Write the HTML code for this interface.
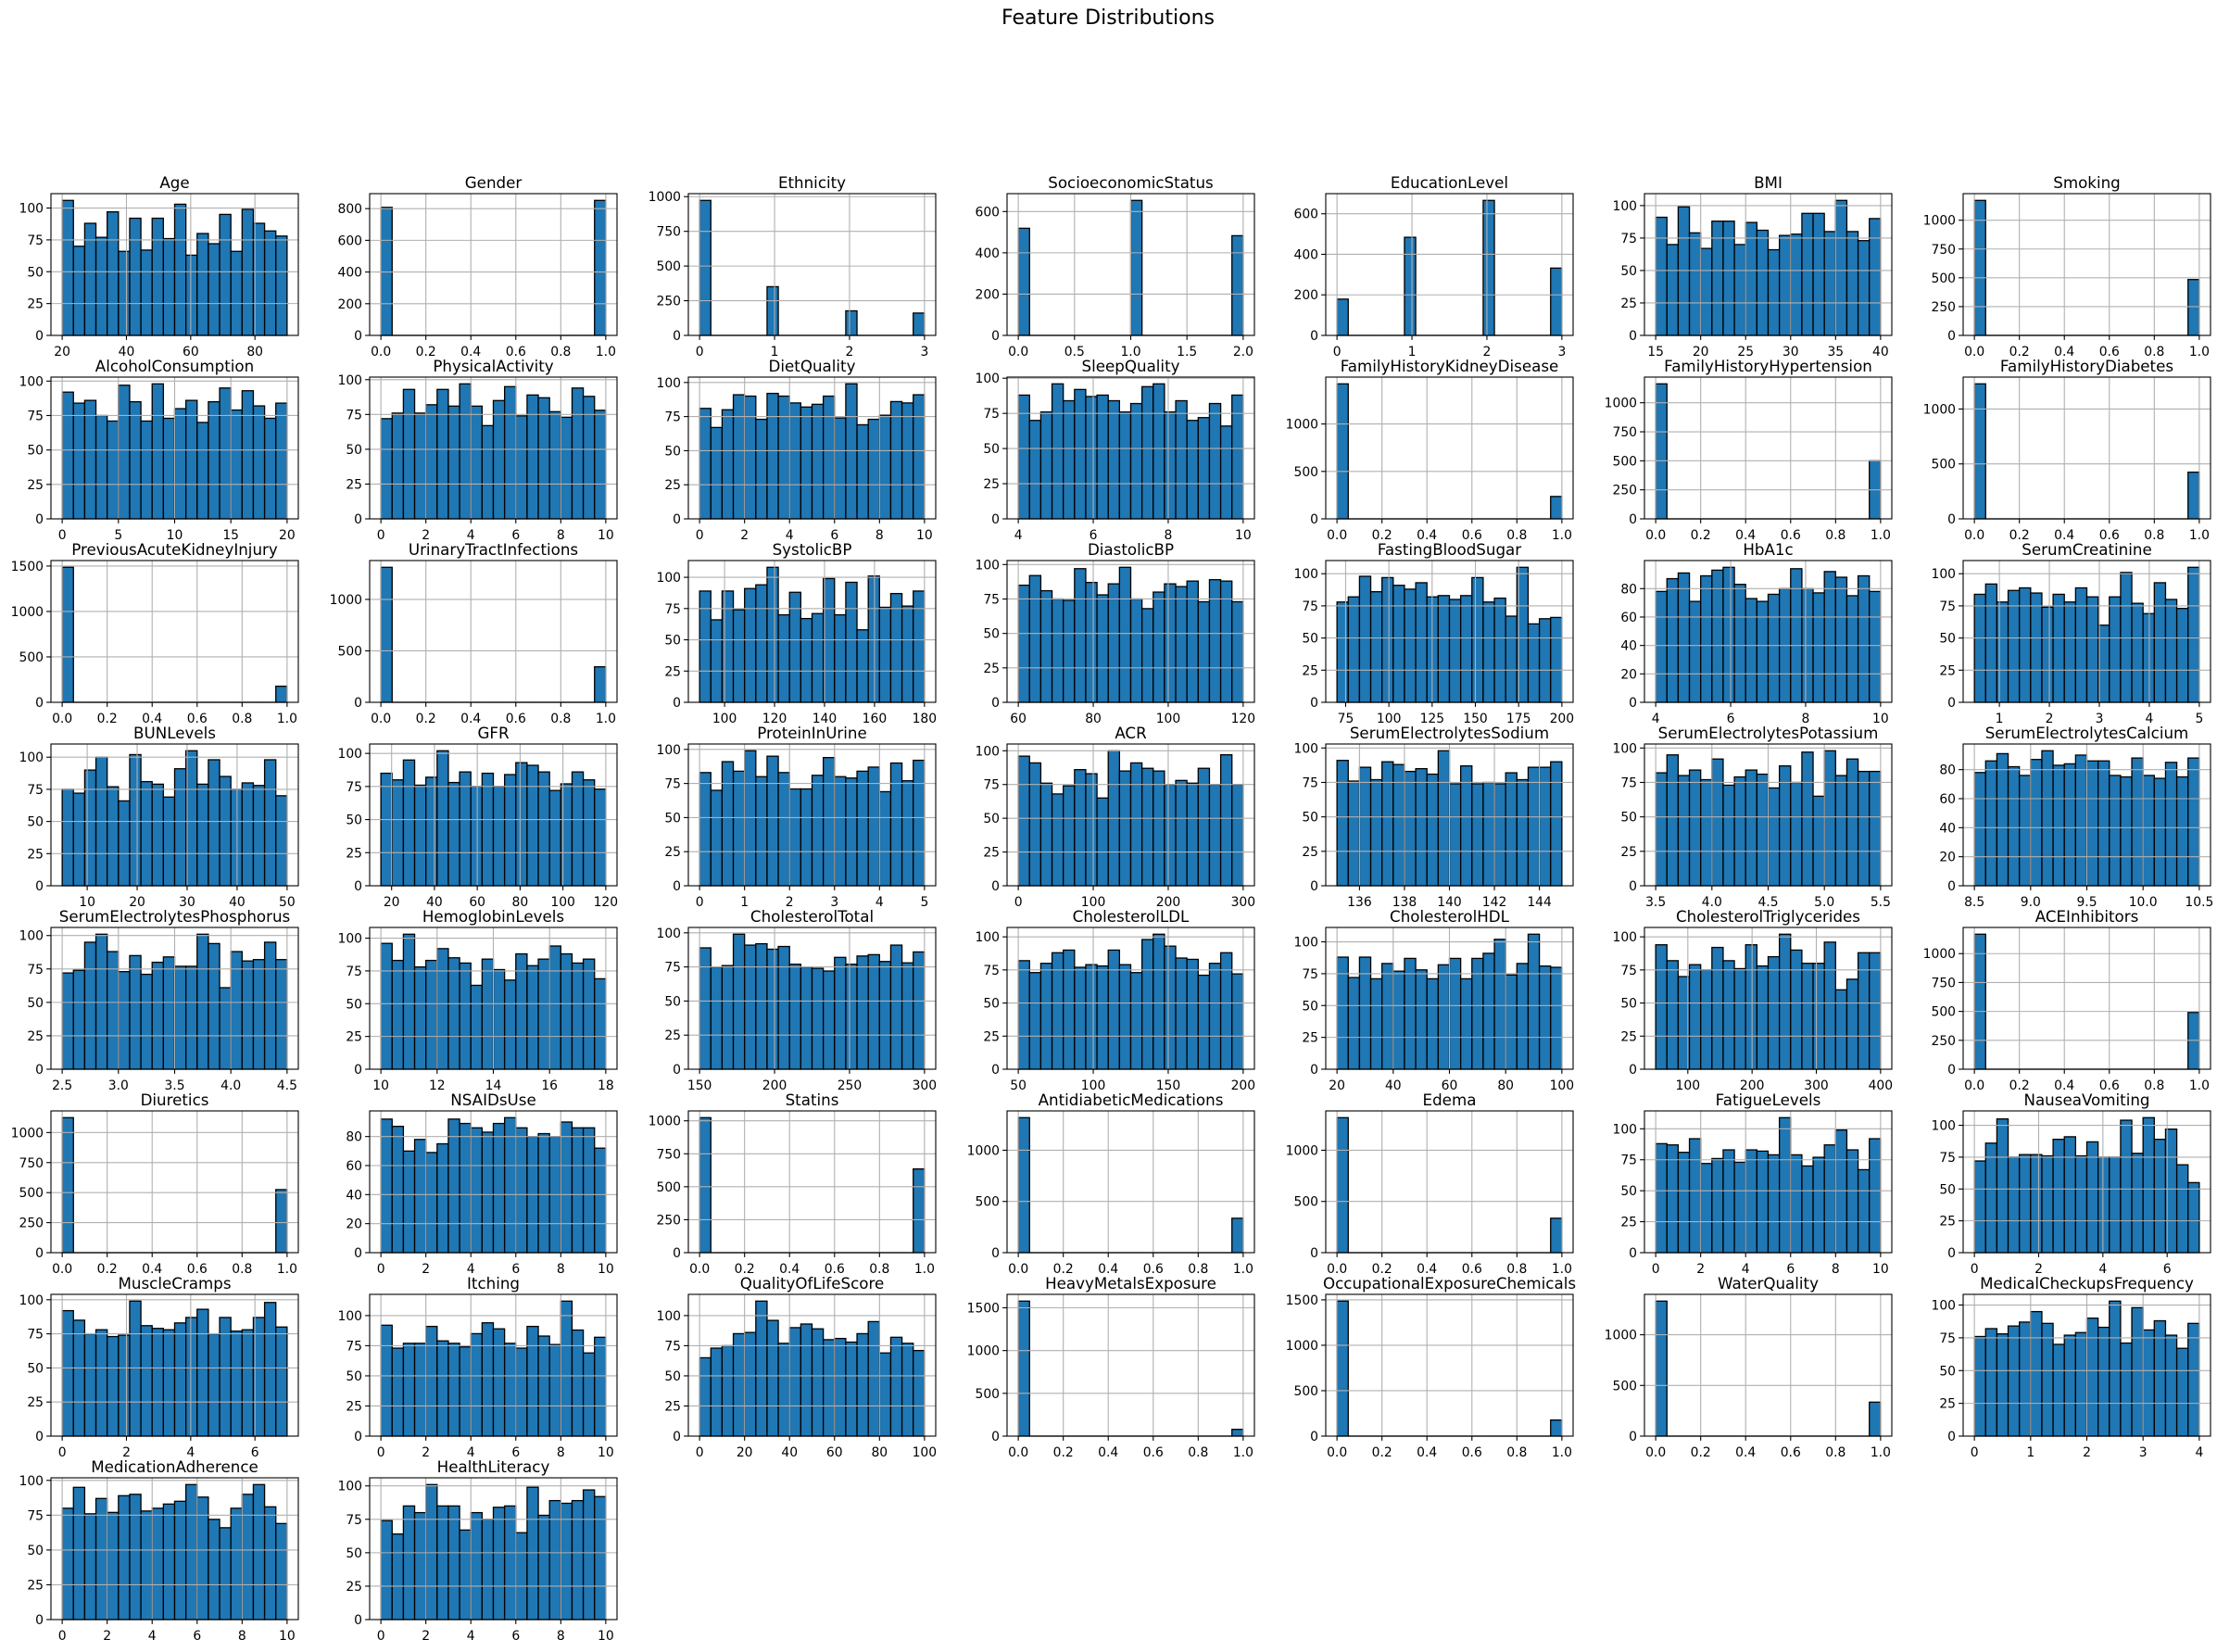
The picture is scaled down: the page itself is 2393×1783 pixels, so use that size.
<!DOCTYPE html>
<html><head><meta charset="utf-8"><title>Feature Distributions</title>
<style>html,body{margin:0;padding:0;background:#fff;}svg{display:block;}</style>
</head><body>
<svg id="fig" width="2393" height="1783" viewBox="0 0 2393 1783" xmlns="http://www.w3.org/2000/svg" font-family="'DejaVu Sans', 'Liberation Sans', sans-serif">
<rect width="2393" height="1783" fill="#fff"/>
<text x="1196" y="26" font-size="22" text-anchor="middle">Feature Distributions</text>
</svg>
<script>
const names=["Age","Gender","Ethnicity","SocioeconomicStatus","EducationLevel","BMI","Smoking","AlcoholConsumption","PhysicalActivity","DietQuality","SleepQuality","FamilyHistoryKidneyDisease","FamilyHistoryHypertension","FamilyHistoryDiabetes","PreviousAcuteKidneyInjury","UrinaryTractInfections","SystolicBP","DiastolicBP","FastingBloodSugar","HbA1c","SerumCreatinine","BUNLevels","GFR","ProteinInUrine","ACR","SerumElectrolytesSodium","SerumElectrolytesPotassium","SerumElectrolytesCalcium","SerumElectrolytesPhosphorus","HemoglobinLevels","CholesterolTotal","CholesterolLDL","CholesterolHDL","CholesterolTriglycerides","ACEInhibitors","Diuretics","NSAIDsUse","Statins","AntidiabeticMedications","Edema","FatigueLevels","NauseaVomiting","MuscleCramps","Itching","QualityOfLifeScore","HeavyMetalsExposure","OccupationalExposureChemicals","WaterQuality","MedicalCheckupsFrequency","MedicationAdherence","HealthLiteracy"];
const xMin=[20,0,0,0,0,15,0,0,0,0,4,0,0,0,0,0,90,60,70,4,0.5,5,15,0,0,135,3.5,8.5,2.5,10,150,50,20,50,0,0,0,0,0,0,0,0,0,0,0,0,0,0,0,0,0];
const xMax=[90,1,3,2,3,40,1,20,10,10,10,1,1,1,1,1,180,120,200,10,5,50,120,5,300,145,5.5,10.5,4.5,18,300,200,100,400,1,1,10,1,1,1,10,7,7,10,100,1,1,1,4,10,10];
const counts=[
[106,70,88,77,97,66,92,67,92,76,103,63,80,72,95,66,99,88,82,78],
[808,0,0,0,0,0,0,0,0,0,0,0,0,0,0,0,0,0,0,852],
[973,0,0,0,0,0,351,0,0,0,0,0,0,177,0,0,0,0,0,161],
[519,0,0,0,0,0,0,0,0,0,654,0,0,0,0,0,0,0,0,483],
[179,0,0,0,0,0,484,0,0,0,0,0,0,666,0,0,0,0,0,332],
[91,70,99,79,67,88,88,70,87,81,66,77,78,94,94,80,104,80,73,90],
[1172,0,0,0,0,0,0,0,0,0,0,0,0,0,0,0,0,0,0,485],
[92,84,86,75,71,97,85,71,98,73,80,86,70,85,95,79,93,82,73,84],
[72,76,93,76,82,93,81,97,81,67,85,95,74,89,87,77,73,94,88,78],
[81,67,80,91,90,73,92,90,85,82,84,90,74,99,69,73,76,86,85,91],
[88,70,76,96,84,92,87,88,84,76,82,94,96,76,84,70,72,82,66,88],
[1423,0,0,0,0,0,0,0,0,0,0,0,0,0,0,0,0,0,0,236],
[1163,0,0,0,0,0,0,0,0,0,0,0,0,0,0,0,0,0,0,501],
[1229,0,0,0,0,0,0,0,0,0,0,0,0,0,0,0,0,0,0,425],
[1486,0,0,0,0,0,0,0,0,0,0,0,0,0,0,0,0,0,0,177],
[1312,0,0,0,0,0,0,0,0,0,0,0,0,0,0,0,0,0,0,345],
[89,66,89,74,91,94,108,70,88,67,71,99,70,96,58,101,76,87,77,89],
[85,92,81,75,74,97,87,78,86,98,75,68,80,86,84,88,73,89,88,73],
[78,82,98,86,97,91,88,93,82,83,80,83,97,78,81,67,105,61,65,66],
[78,87,91,71,89,93,95,83,73,71,76,80,94,80,77,92,88,75,89,78],
[84,92,78,87,89,85,74,84,78,89,82,60,82,101,77,69,93,80,73,105],
[75,72,90,100,77,66,102,81,79,69,91,105,79,98,85,75,80,78,98,70],
[85,80,95,76,82,102,78,86,75,85,75,84,93,91,86,72,77,86,80,73],
[83,70,91,84,99,80,95,83,71,71,81,94,80,79,84,87,69,90,77,92],
[96,91,76,68,74,86,83,65,100,85,91,87,85,75,78,76,87,75,97,75],
[91,76,86,77,90,88,83,85,81,98,74,87,74,75,74,82,77,86,86,90],
[82,95,80,84,77,92,73,79,84,81,71,87,75,97,65,98,80,92,83,83],
[78,86,91,82,76,87,93,83,84,90,86,86,76,75,88,76,74,85,75,88],
[72,74,95,101,88,73,85,71,80,84,77,77,101,94,61,88,81,82,95,82],
[96,83,103,78,83,92,85,81,64,84,76,68,88,79,84,94,88,81,84,69],
[89,75,76,99,91,92,88,90,77,75,74,72,82,77,83,84,79,91,78,86],
[82,73,80,88,90,77,79,78,90,79,73,98,102,93,84,83,71,80,88,72],
[88,72,88,71,83,77,87,78,71,82,87,71,87,91,102,74,83,106,81,80],
[94,82,70,79,75,92,82,76,94,78,85,102,90,80,80,96,60,68,88,88],
[1168,0,0,0,0,0,0,0,0,0,0,0,0,0,0,0,0,0,0,491],
[1124,0,0,0,0,0,0,0,0,0,0,0,0,0,0,0,0,0,0,525],
[92,87,70,78,69,75,92,89,86,83,89,93,86,80,82,80,90,86,86,72],
[1024,0,0,0,0,0,0,0,0,0,0,0,0,0,0,0,0,0,0,635],
[1318,0,0,0,0,0,0,0,0,0,0,0,0,0,0,0,0,0,0,336],
[1318,0,0,0,0,0,0,0,0,0,0,0,0,0,0,0,0,0,0,336],
[88,87,81,92,72,76,83,73,83,82,79,109,79,70,77,87,99,83,67,92],
[72,86,105,75,77,77,76,89,91,76,87,75,75,104,78,106,89,97,69,55],
[92,85,75,78,73,74,99,81,79,78,83,87,93,75,87,77,78,87,98,80],
[92,73,77,77,91,79,77,74,85,94,89,77,73,91,83,76,112,88,69,82],
[65,73,75,85,86,112,96,77,90,93,89,80,81,78,85,95,69,82,77,71],
[1578,0,0,0,0,0,0,0,0,0,0,0,0,0,0,0,0,0,0,79],
[1486,0,0,0,0,0,0,0,0,0,0,0,0,0,0,0,0,0,0,177],
[1332,0,0,0,0,0,0,0,0,0,0,0,0,0,0,0,0,0,0,335],
[76,82,78,84,87,95,86,70,77,79,90,83,103,71,98,81,88,77,67,86],
[80,95,76,87,77,89,90,78,80,83,85,97,88,72,66,80,90,97,81,69],
[74,64,85,80,101,85,85,67,80,75,84,85,65,99,78,89,87,89,97,92]
];

const NS="http://www.w3.org/2000/svg";
const svg=document.getElementById('fig');
function mk(tag,attrs,parent){const e=document.createElementNS(NS,tag);for(const k in attrs)e.setAttribute(k,attrs[k]);(parent||svg).appendChild(e);return e;}
function niceTicks(lo,hi,maxN){
  const mults=[1,2,2.5,5,10];
  let base=Math.pow(10,Math.floor(Math.log10((hi-lo)/maxN))-1);
  for(let iter=0;iter<6;iter++){
    for(const m of mults){
      const step=m*base;
      const first=Math.ceil(lo/step-1e-9),last=Math.floor(hi/step+1e-9);
      if(last-first+1<=maxN){const t=[];for(let k=first;k<=last;k++)t.push(k*step);return {ticks:t,step:step};}
    }
    base*=10;
  }
  return {ticks:[lo,hi],step:hi-lo};
}
function decimals(step){let d=0;while(d<6&&Math.abs(step*Math.pow(10,d)-Math.round(step*Math.pow(10,d)))>1e-9)d++;return d;}

const AX_W=267,AX_H=153;
names.forEach(function(name,i){
  const col=i%7,row=Math.floor(i/7);
  const left=55+col*344,top=209+row*198,bottom=top+AX_H,right=left+AX_W;
  const g=mk('g',{});
  
  
  const mn=xMin[i],mx=xMax[i],rng=mx-mn;
  const xlo=mn-0.05*rng,xhi=mx+0.05*rng;
  const data=counts[i];
  const ymax=Math.max.apply(null,data)*1.05;
  const sx=v=>left+(v-xlo)/(xhi-xlo)*AX_W;
  const sy=v=>bottom-v/ymax*AX_H;
  // bars
  const bw=rng/data.length;
  data.forEach(function(c,k){
    const x0=sx(mn+k*bw),x1=sx(mn+(k+1)*bw);
    if(c>0){
      const r=mk('rect',{x:x0,y:sy(c),width:x1-x0,height:bottom-sy(c),fill:'#1f77b4',stroke:'#000','stroke-width':1.3},g);
      
      
    } else {
      const l=mk('line',{x1:x0,x2:x1,y1:bottom,y2:bottom,stroke:'#000','stroke-width':1.3},g);
      
      
    }
  });
  // grid + ticks
  const xt=niceTicks(xlo,xhi,6),yt=niceTicks(0,ymax,5);
  const xd=decimals(xt.step),yd=decimals(yt.step);
  xt.ticks.forEach(function(v){
    const X=sx(v);
    mk('line',{x1:X,x2:X,y1:top,y2:bottom,stroke:'#b0b0b0','stroke-width':1.1},g);
    mk('line',{x1:X,x2:X,y1:bottom,y2:bottom+4.9,stroke:'#000','stroke-width':1.1},g);
    const t=mk('text',{x:X,y:bottom+22,'font-size':13.9,'text-anchor':'middle'},g);
    
    
    t.textContent=v.toFixed(xd);
  });
  yt.ticks.forEach(function(v){
    const Y=sy(v);
    mk('line',{x1:left,x2:right,y1:Y,y2:Y,stroke:'#b0b0b0','stroke-width':1.1},g);
    mk('line',{x1:left-4.9,x2:left,y1:Y,y2:Y,stroke:'#000','stroke-width':1.1},g);
    const t=mk('text',{x:left-8,y:Y+5,'font-size':13.9,'text-anchor':'end'},g);
    
    
    t.textContent=v.toFixed(yd);
  });
  const sp=mk('rect',{x:left,y:top,width:AX_W,height:AX_H,fill:'none',stroke:'#000','stroke-width':1.1},g);
  
  
  const tt=mk('text',{x:left+AX_W/2,y:top-6,'font-size':16.7,'text-anchor':'middle'},g);
  
  
  tt.textContent=name;
});
</script>
</body></html>
